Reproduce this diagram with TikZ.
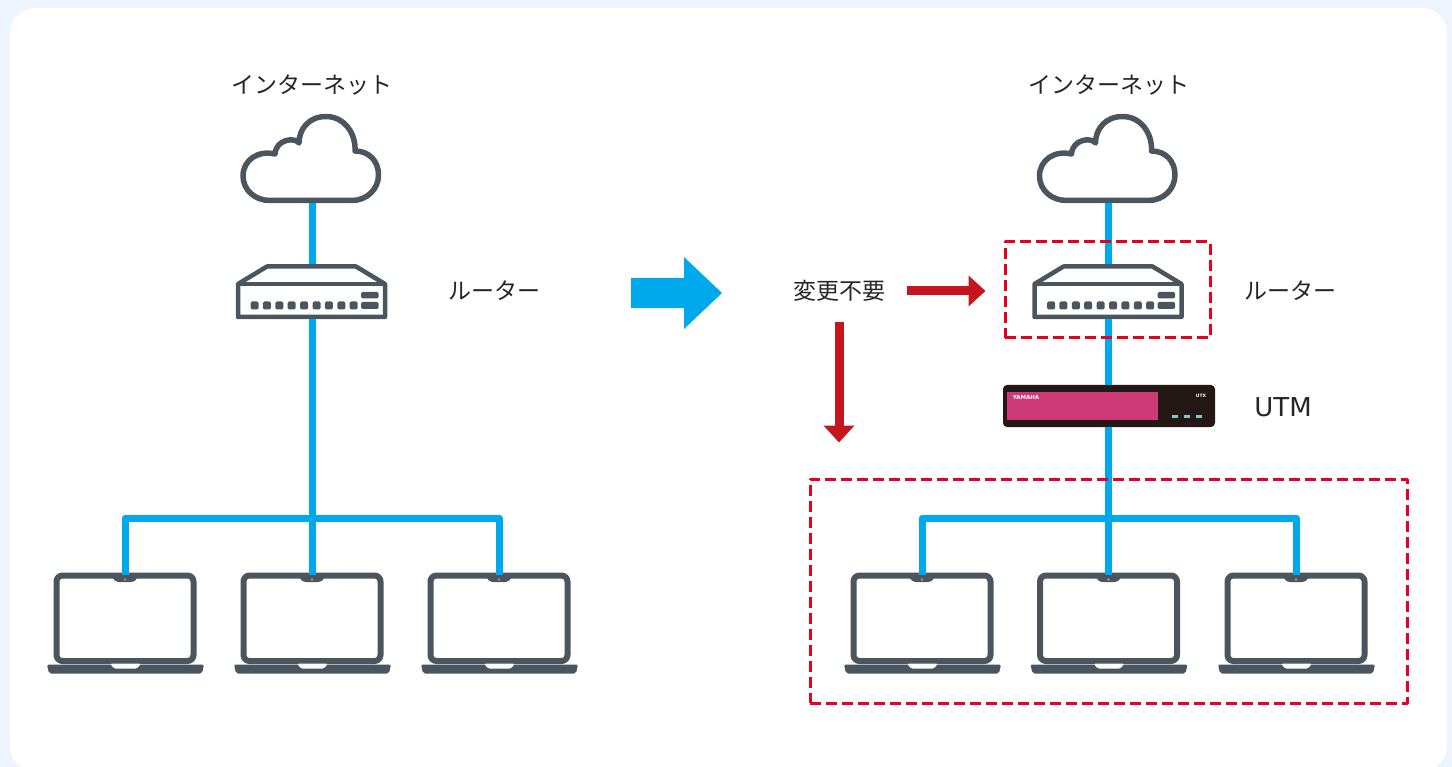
\documentclass[tikz,border=0pt]{standalone}
\usepackage{fontspec}
\setmainfont{Noto Sans CJK JP}
\newfontfamily\latinfont{DejaVu Sans}
\usetikzlibrary{arrows.meta}
\definecolor{iconC}{HTML}{4A555E}
\definecolor{lineC}{HTML}{00A9EC}
\definecolor{redC}{HTML}{C4161C}
\definecolor{dashC}{HTML}{E8001E}
\definecolor{backC}{HTML}{EDF4FE}
\definecolor{utmC}{HTML}{231815}
\definecolor{pinkC}{HTML}{CE3A75}
\definecolor{ledC}{HTML}{7FCBC4}
\tikzset{
lbl/.style={font=\fontsize{23}{27}\selectfont,text=black!85,inner sep=0pt},
wire/.style={lineC,line width=7pt},
redarrow/.style={redC,line width=9pt,-{Triangle[length=17pt,width=30pt]}},
dashbox/.style={draw=dashC,line width=3pt,dash pattern=on 11pt off 5pt,inner sep=0pt},
cloudicon/.pic={
\draw[iconC,line width=5.5pt,fill=white,line join=round] (-42,-2.5) -- (40,-2.5)
 .. controls (55,-2.5) and (66.5,-14) .. (66.5,-28)
 .. controls (66.5,-42) and (57,-52) .. (43,-52)
 .. controls (44,-70) and (32,-86.5) .. (14,-86.5)
 .. controls (-3,-86.5) and (-13,-74) .. (-13,-60)
 .. controls (-17,-66) and (-36,-64) .. (-37,-49)
 .. controls (-54,-53) and (-69,-43) .. (-69,-27)
 .. controls (-69,-13) and (-57,-2.5) .. (-42,-2.5) -- cycle;
\coordinate (-bot) at (0,0);
},
routericon/.pic={
\draw[iconC,line width=4.5pt,fill=white,line join=round] (-45,-50.5) -- (44,-50.5) -- (73,-33) -- (73,0) -- (-74,0) -- (-74,-33) -- cycle;
\draw[iconC,line width=4.5pt] (-74,-33) -- (73,-33);
\foreach \i in {0,...,8}
{
\fill[iconC,rounded corners=1.5pt] ({-57.5+\i*12.4-4},-15.5) rectangle ++(8,8);
}
\fill[iconC,rounded corners=1.5pt] (49,-25) rectangle (66.5,-18.5);
\fill[iconC,rounded corners=1.5pt] (49,-15) rectangle (66.5,-8);
\coordinate (-top) at (0,-52.5);
\coordinate (-bot) at (0,2);
},
laptopicon/.pic={
\draw[iconC,line width=6pt,fill=white,rounded corners=6pt] (-68.5,0.5) rectangle (68.5,86);
\fill[iconC,rounded corners=3pt] (-12.5,-1) -- (12.5,-1) -- (12.5,3) -- (9,7) -- (-9,7) -- (-12.5,3) -- cycle;
\fill[black!40] (0,4.5) circle (1.3);
\fill[iconC,rounded corners=2pt] (-78,89.5) -- (79,89.5) -- (77,98.5) -- (-76,98.5) -- cycle;
\fill[white,rounded corners=1.5pt] (-15,88.5) -- (16,88.5) -- (12,93.5) -- (-11,93.5) -- cycle;
\coordinate (-top) at (0,0);
},
}
\begin{document}
\begin{tikzpicture}[x=1pt,y=-1pt,line join=round]
\useasboundingbox (0,0) rectangle (1452,767);
\fill[backC] (0,0) rectangle (1452,767);
\fill[white,rounded corners=25pt] (10,8) rectangle (1447,771);
% left side
\node[lbl] (netL) at (312,85) {インターネット};
\pic (cloudL) at (312,203) {cloudicon};
\pic (routerL) at (312,317) {routericon};
\node[lbl] (rtxtL) at (494,291) {ルーター};
\foreach \n/\x in {A/125,B/312,C/499}
{
\pic (lapL\n) at (\x,575) {laptopicon};
}
\coordinate (busL) at (312,518);
\draw[wire] (cloudL-bot) -- (routerL-top);
\draw[wire] (routerL-bot) -- (busL);
\draw[wire] (lapLA-top) |- (busL) -| (lapLC-top);
\draw[wire] (busL) -- (lapLB-top);
% middle arrow
\fill[lineC] (631,278) -- (684,278) -- (684,257) -- (722,293) -- (684,329) -- (684,308) -- (631,308) -- cycle;
% right side
\node[lbl] (netR) at (1109,85) {インターネット};
\pic (cloudR) at (1108.5,203) {cloudicon};
\pic (routerR) at (1108.5,317) {routericon};
\node[lbl] (rtxtR) at (1290,291) {ルーター};
\node[fill=utmC,rounded corners=4pt,minimum width=212pt,minimum height=42pt,inner sep=0pt] (utm) at (1109,406) {};
\fill[pinkC] (1007,392) rectangle (1158,420);
\node[white,font=\latinfont\bfseries\fontsize{5.5}{6}\selectfont,inner sep=0pt] (yamaha) at (1026,397.5) {YAMAHA};
\node[white,font=\latinfont\bfseries\fontsize{4.5}{5}\selectfont,inner sep=0pt] (utx) at (1201,395.5) {UTX};
\foreach \x in {1175,1187,1199}
{
\fill[ledC] (\x-3,415) rectangle (\x+3,418);
}
\node[lbl,font=\latinfont\fontsize{26}{30}\selectfont] (utmtxt) at (1283,407) {UTM};
\foreach \n/\x in {A/922,B/1108.5,C/1296}
{
\pic (lapR\n) at (\x,575) {laptopicon};
}
\coordinate (busR) at (1108.5,518);
\draw[wire] (cloudR-bot) -- (routerR-top);
\draw[wire] (routerR-bot) -- (utm.north -| routerR-bot);
\draw[wire] (utm.south -| routerR-bot) -- (busR);
\draw[wire] (lapRA-top) |- (busR) -| (lapRC-top);
\draw[wire] (busR) -- (lapRB-top);
% dashed boxes and red arrows
\node[dashbox,minimum width=205pt,minimum height=96pt] (boxrouter) at (1107.5,290) {};
\node[dashbox,minimum width=597pt,minimum height=224pt] (boxlan) at (1108.5,591) {};
\node[lbl] (keep) at (839,291) {変更不要};
\draw[redarrow,shorten <=22pt,shorten >=18pt] (keep) -- (keep -| boxrouter.west);
\coordinate (keepdown) at (839,322);
\draw[redarrow,shorten >=35pt] (keepdown) -- (keepdown |- boxlan.north);
\end{tikzpicture}
\end{document}
